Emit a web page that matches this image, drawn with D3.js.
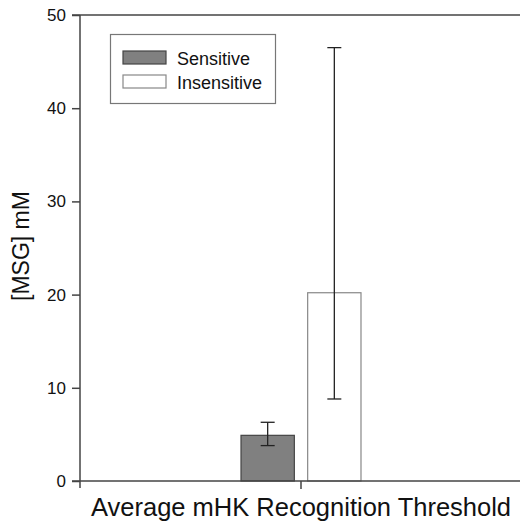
<!DOCTYPE html>
<html>
<head>
<meta charset="utf-8">
<script src="https://cdn.jsdelivr.net/npm/d3@7"></script>
<style>
  html, body { margin: 0; padding: 0; background: #fff; }
  svg { display: block; font-family: Arial, "Liberation Sans", sans-serif; }
</style>
</head>
<body>
<svg id="chart" width="520" height="521"></svg>
<script>
// ---- data ----
const categories = ["Average mHK Recognition Threshold"];
const seriesNames = ["Sensitive", "Insensitive"];
const seriesColors = ["#808080", "#ffffff"];
const seriesStrokes = ["#444444", "#888888"];
const meanValues = [4.9, 20.2];
const errLow = [3.8, 8.8];
const errHigh = [6.3, 46.5];
const yTicks = [0, 10, 20, 30, 40, 50];
const yTitle = "[MSG] mM";

(function () {
// ---- layout ----
const svg = d3.select("#chart");
const pLeft = 80, pRight = 522, pTop = 15, pBottom = 481;
const axisColor = "#444444";

const y = d3.scaleLinear().domain([0, 50]).range([pBottom, pTop]);
const x0 = d3.scaleBand().domain(categories).range([pLeft, pRight]).paddingInner(0.573).paddingOuter(0.573);
const x1 = d3.scaleBand().domain(seriesNames).range([0, x0.bandwidth()]).paddingInner(0.2).paddingOuter(0);

// frame (top line)
svg.append("line")
  .attr("x1", pLeft - 8).attr("x2", 525)
  .attr("y1", pTop).attr("y2", pTop)
  .attr("stroke", axisColor).attr("stroke-width", 1.5);

// bars
const rows = seriesNames.map((s, i) => ({ cat: categories[0], s, i, v: meanValues[i], lo: errLow[i], hi: errHigh[i] }));
const g = svg.append("g");
g.selectAll("rect.bar").data(rows).enter().append("rect")
  .attr("class", "bar")
  .attr("x", d => x0(d.cat) + x1(d.s))
  .attr("width", x1.bandwidth())
  .attr("y", d => y(d.v))
  .attr("height", d => y(0) - y(d.v))
  .attr("fill", d => seriesColors[d.i])
  .attr("stroke", d => seriesStrokes[d.i])
  .attr("stroke-width", 1.2);

// error bars
const cap = 14;
const cx = d => x0(d.cat) + x1(d.s) + x1.bandwidth() / 2;
const eb = g.selectAll("g.err").data(rows).enter().append("g").attr("class", "err");
eb.append("line")
  .attr("x1", cx).attr("x2", cx)
  .attr("y1", d => y(d.lo)).attr("y2", d => y(d.hi))
  .attr("stroke", "#222").attr("stroke-width", 1.3);
["lo", "hi"].forEach(k => {
  eb.append("line")
    .attr("x1", d => cx(d) - cap / 2)
    .attr("x2", d => cx(d) + cap / 2)
    .attr("y1", d => y(d[k])).attr("y2", d => y(d[k]))
    .attr("stroke", "#222").attr("stroke-width", 1.3);
});

// y axis
const yAxis = svg.append("g")
  .attr("transform", `translate(${pLeft},0)`)
  .call(d3.axisLeft(y).tickValues(yTicks).tickSize(8).tickPadding(6).tickSizeOuter(0));
yAxis.select(".domain").remove();
yAxis.append("line").attr("x1", 0).attr("x2", 0).attr("y1", pTop).attr("y2", pBottom + 7)
  .attr("stroke", axisColor).attr("stroke-width", 1.5);
yAxis.selectAll(".tick line").attr("stroke", axisColor).attr("stroke-width", 1.5);
yAxis.selectAll(".tick text").attr("fill", "#111").style("font-size", "17px");

// x axis
const xAxis = svg.append("g")
  .attr("transform", `translate(0,${pBottom})`)
  .call(d3.axisBottom(x0).tickSize(8).tickPadding(9).tickSizeOuter(0));
xAxis.select(".domain").remove();
xAxis.append("line").attr("x1", pLeft - 8).attr("x2", 525).attr("y1", 0).attr("y2", 0)
  .attr("stroke", axisColor).attr("stroke-width", 1.5);
xAxis.selectAll(".tick line").attr("stroke", axisColor).attr("stroke-width", 1.5);
xAxis.selectAll(".tick text").attr("fill", "#111").style("font-size", "25.5px");

// y title
svg.append("text")
  .attr("transform", `translate(29,246) rotate(-90)`)
  .attr("text-anchor", "middle")
  .attr("fill", "#111")
  .style("font-size", "23px")
  .text(yTitle);

// legend
const lg = svg.append("g");
lg.append("rect").attr("x", 110.5).attr("y", 34.5).attr("width", 165).attr("height", 69)
  .attr("fill", "#fff").attr("stroke", "#777").attr("stroke-width", 1.2);
const li = lg.selectAll("g.li").data(seriesNames).enter().append("g")
  .attr("transform", (d, i) => `translate(123,${51 + i * 24})`);
li.append("rect").attr("width", 43).attr("height", 13)
  .attr("fill", (d, i) => seriesColors[i]).attr("stroke", (d, i) => seriesStrokes[i]).attr("stroke-width", 1.2);
li.append("text").attr("x", 54).attr("y", 13.5).attr("fill", "#111")
  .style("font-size", "18px").text(d => d);
})();
</script>
</body>
</html>
